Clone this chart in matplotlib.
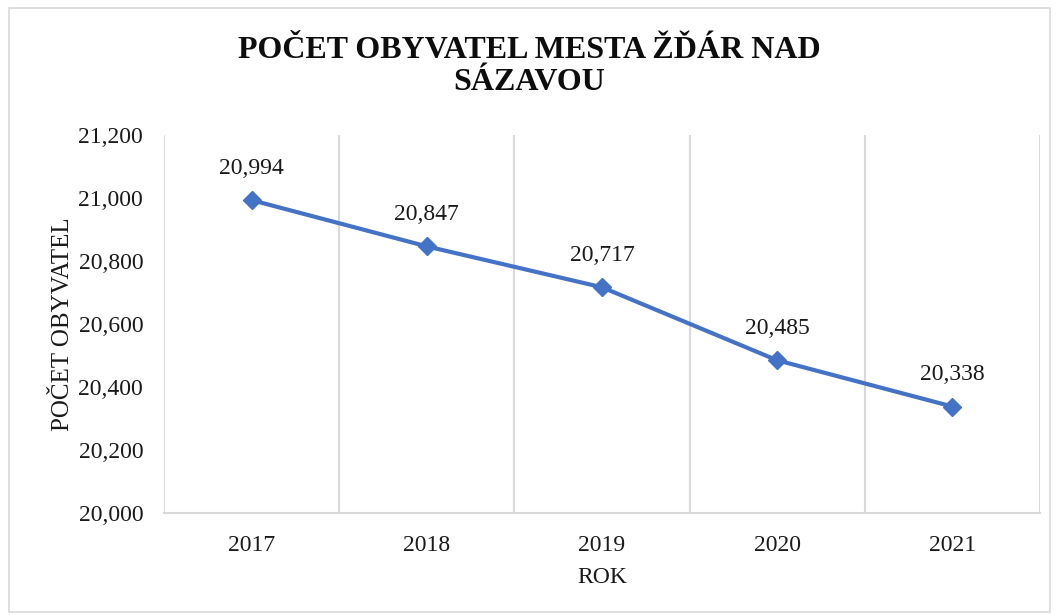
import matplotlib.pyplot as plt
from matplotlib.patches import Rectangle
from matplotlib.ticker import FuncFormatter

# data
roky = ["2017", "2018", "2019", "2020", "2021"]
obyvatele = [20994, 20847, 20717, 20485, 20338]
y_ticks = [20000, 20200, 20400, 20600, 20800, 21000, 21200]

plt.rcParams['font.family'] = ['Liberation Serif', 'DejaVu Serif']
TXT = '#1a1a1a'

fig = plt.figure(figsize=(10.58, 6.15), dpi=100)
ax = fig.add_axes([0.155, 0.166, 0.828, 0.614])

# ramecek kolem grafu
fig.patches.append(Rectangle((0.0085, 0.005), 0.984, 0.982, transform=fig.transFigure,
                             fill=False, edgecolor='#D9D9D9', linewidth=1.2))

x = list(range(len(roky)))
ax.plot(x, obyvatele, color='#4472C4', linewidth=3, marker='D', markersize=9, zorder=3)

for xi, val in zip(x, obyvatele):
    ax.annotate(f"{val:,}", (xi, val), xytext=(0, 23), textcoords='offset points',
                ha='center', va='center', fontsize=17, color=TXT)

ax.set_xlim(-0.5, len(roky) - 0.5)
ax.set_ylim(y_ticks[0], y_ticks[-1])
ax.set_yticks(y_ticks)
ax.yaxis.set_major_formatter(FuncFormatter(lambda v, p: f"{int(v):,}"))
ax.set_xticks(x)
ax.set_xticklabels(roky)

# svisle mrizky na hranicich kategorii
for b in [i - 0.5 for i in range(len(roky) + 1)]:
    ax.axvline(b, color='#D9D9D9', linewidth=1.5, zorder=1)

for s in ['top', 'right', 'left']:
    ax.spines[s].set_visible(False)
ax.spines['bottom'].set_color('#D9D9D9')
ax.spines['bottom'].set_linewidth(1.5)
ax.tick_params(axis='both', length=0, labelsize=17, colors=TXT)
ax.tick_params(axis='x', pad=16)
ax.tick_params(axis='y', pad=15)

ax.set_xlabel("ROK", fontsize=17, color=TXT, labelpad=8)
ax.set_ylabel("POČET OBYVATEL", fontsize=18, color=TXT, labelpad=3)

fig.text(0.5, 0.892, "POČET OBYVATEL MESTA ŽĎÁR NAD\nSÁZAVOU", ha='center', va='center',
         fontsize=23, fontweight='bold', color='#0d0d0d', linespacing=1.15)

fig.savefig("out.png", dpi=100)
